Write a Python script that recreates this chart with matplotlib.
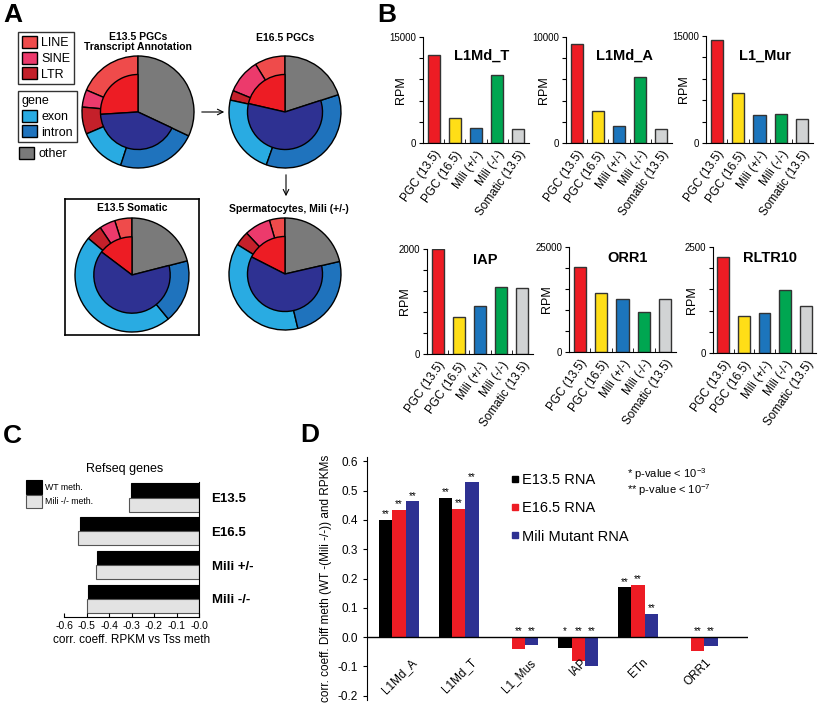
import matplotlib.pyplot as plt
from matplotlib.patches import Patch
from matplotlib.lines import Line2D
import numpy as np

plt.rcParams['font.family'] = ['Liberation Sans', 'DejaVu Sans']
plt.rcParams['mathtext.default'] = 'regular'

W, H = 822, 703


def rect(x0, y0, x1, y1):
    # pixel box (top-left origin) -> figure fraction
    return [x0 / W, 1 - y1 / H, (x1 - x0) / W, (y1 - y0) / H]


# ---------------- A: transcript annotation pies ----------------
outer_labels = ['LINE', 'SINE', 'LTR', 'exon', 'intron', 'other']
# outer ring (%): LINE, SINE, LTR, exon, intron, other
outer_e135 = [18.6, 5.0, 7.8, 13.6, 23.0, 32.0]
outer_e165 = [8.8, 10.0, 2.8, 23.0, 35.4, 20.0]
outer_som = [4.9, 4.5, 4.5, 47.1, 18.0, 21.0]
outer_sperm = [4.5, 7.5, 4.2, 37.5, 24.9, 21.4]
# inner disc (%): repeat, gene, other
inner_e135 = [26.0, 42.0, 32.0]
inner_e165 = [21.4, 58.6, 20.0]
inner_som = [14.7, 64.3, 21.0]
inner_sperm = [17.5, 61.1, 21.4]

outer_colors = ['#ef4b4b', '#ec3a6c', '#c4202a', '#29abe2', '#1f73bd', '#7a7a7a']
inner_colors = ['#ed1c24', '#2e3192', 'none']

# ---------------- B: RPM per repeat family ----------------
samples = ['PGC (13.5)', 'PGC (16.5)', 'Mili (+/-)', 'Mili (-/-)', 'Somatic (13.5)']
sample_colors = ['#ed1c24', '#ffde17', '#1c75bc', '#00a651', '#d1d3d4']
families = ['L1Md_T', 'L1Md_A', 'L1_Mur', 'IAP', 'ORR1', 'RLTR10']
rpm_l1md_t = [12400, 3500, 2100, 9600, 2050]
rpm_l1md_a = [9380, 3030, 1590, 6220, 1310]
rpm_l1_mur = [14500, 7060, 3900, 4000, 3400]
rpm_iap = [2000, 705, 908, 1283, 1257]
rpm_orr1 = [20300, 14100, 12700, 9600, 12700]
rpm_rltr10 = [2270, 875, 953, 1484, 1100]
rpm_max = [15000, 10000, 15000, 2000, 25000, 2500]

# ---------------- C: refseq genes ----------------
c_groups = ['E13.5', 'E16.5', 'Mili +/-', 'Mili -/-']
c_wt = [-0.302, -0.529, -0.455, -0.495]
c_mili = [-0.311, -0.536, -0.458, -0.499]

# ---------------- D: diff meth vs RPKM ----------------
d_families = ['L1Md_A', 'L1Md_T', 'L1_Mus', 'IAP', 'ETn', 'ORR1']
d_e135 = [0.401, 0.475, 0.0, -0.036, 0.170, 0.0]
d_e165 = [0.435, 0.437, -0.041, -0.083, 0.179, -0.046]
d_mili = [0.464, 0.528, -0.026, -0.100, 0.079, -0.032]
sig_e135 = ['**', '**', '', '*', '**', '']
sig_e165 = ['**', '**', '**', '**', '**', '**']
sig_mili = ['**', '**', '**', '**', '**', '**']

fig = plt.figure(figsize=(W / 100, H / 100), dpi=100)

# ---- panel A
pies = [
    ((84, 52, 204, 172), 138, 112, 56, outer_e135, inner_e135, False),
    ((219, 52, 351, 172), 285, 112, 56, outer_e165, inner_e165, False),
    ((65, 199, 199, 335), 132, 275, 57, outer_som, inner_som, True),
    ((219, 212, 351, 334), 285, 274, 56, outer_sperm, inner_sperm, False),
]
for box, cx, cy, r, outer, inner, framed in pies:
    ax = fig.add_axes(rect(*box))
    ax.pie(outer, colors=outer_colors, startangle=90, radius=1,
           wedgeprops=dict(edgecolor='black', linewidth=1))
    w, _ = ax.pie(inner, colors=inner_colors, startangle=90, radius=0.67,
                  wedgeprops=dict(edgecolor='black', linewidth=1))
    w[-1].set_visible(False)
    ax.set_xlim((box[0] - cx) / r, (box[2] - cx) / r)
    ax.set_ylim((cy - box[3]) / r, (cy - box[1]) / r)
    if framed:
        ax.set_frame_on(True)
        ax.set_xticks([])
        ax.set_yticks([])
        for s in ax.spines.values():
            s.set_linewidth(1.2)

leg_kw = dict(fontsize=9, fancybox=False, edgecolor='black', handlelength=1.25,
              handleheight=1.1, borderpad=0.3, labelspacing=0.2, handletextpad=0.3,
              borderaxespad=0, loc='upper left')
lg1 = fig.legend(handles=[Patch(fc=c, ec='black', label=l)
                          for c, l in zip(outer_colors[:3], outer_labels[:3])],
                 bbox_to_anchor=(18 / W, 1 - 32 / H), **leg_kw)
lg1.get_frame().set_linewidth(1)
lg2 = fig.legend(handles=[Patch(fc=c, ec='black', label=l)
                          for c, l in zip(outer_colors[3:5], outer_labels[3:5])],
                 bbox_to_anchor=(18 / W, 1 - 91 / H), title='gene', title_fontsize=9,
                 alignment='left', **leg_kw)
lg2.get_frame().set_linewidth(1)
lg2._legend_box.sep = 2
leg_kw['frameon'] = False
fig.legend(handles=[Patch(fc=outer_colors[5], ec='black', label=outer_labels[5])],
           bbox_to_anchor=(15 / W, 1 - 143 / H), **leg_kw)

# ---- panel B
b_values = [rpm_l1md_t, rpm_l1md_a, rpm_l1_mur, rpm_iap, rpm_orr1, rpm_rltr10]
b_boxes = [(423, 37, 529, 143), (566, 37, 672, 143), (706, 36, 813, 143),
           (427, 249, 533, 354), (569, 247, 676, 352), (713, 247, 816, 353)]
b_title_y = [0.82, 0.82, 0.82, 0.9, 0.9, 0.9]
x = np.arange(len(samples))
for name, vals, ymax, box, ty in zip(families, b_values, rpm_max, b_boxes, b_title_y):
    ax = fig.add_axes(rect(*box))
    ax.bar(x, vals, width=0.57, color=sample_colors, edgecolor='#333333', linewidth=1)
    ax.set_xlim(-0.5, 4.5)
    ax.set_ylim(0, ymax)
    ticks = np.linspace(0, ymax, 6)
    ax.set_yticks(ticks)
    ax.set_yticklabels(['0', '', '', '', '', str(ymax)])
    ax.set_xticks(x)
    ax.set_xticklabels(samples, rotation=55, ha='right', rotation_mode='anchor', fontsize=8.5)
    ax.set_xticks(x[:-1] + 0.5, minor=True)
    ax.tick_params(axis='x', which='major', length=0, pad=4)
    ax.tick_params(axis='x', which='minor', length=3, direction='in')
    ax.tick_params(axis='y', labelsize=7, length=3, pad=2)
    for s in ['top', 'right']:
        ax.spines[s].set_visible(False)
    ax.set_ylabel('RPM', fontsize=9)
    ax.yaxis.set_label_coords(-0.15, 0.5)
    ax.text(0.55, ty, name, transform=ax.transAxes, ha='center', va='center',
            fontsize=10.5, fontweight='bold')

# ---- panel C
ax_c = fig.add_axes(rect(64, 482, 199, 617))
yc = np.arange(len(c_groups))
ax_c.barh(yc - 0.21, c_wt, height=0.42, color='black', edgecolor='black', linewidth=0.8,
          label='WT meth.')
ax_c.barh(yc + 0.21, c_mili, height=0.42, color='#e3e3e3', edgecolor='#555555',
          linewidth=0.8, label='Mili -/- meth.')
ax_c.set_xlim(-0.6, 0.0)
ax_c.set_ylim(3.54, -0.46)
ax_c.set_xticks(np.round(np.arange(-0.6, 0.01, 0.1), 1))
ax_c.set_xticklabels([f'{v:.1f}' for v in np.arange(-0.6, 0.01, 0.1)])
ax_c.tick_params(axis='x', direction='in', length=3, labelsize=7.5, pad=3)
ax_c.yaxis.tick_right()
ax_c.set_yticks(yc)
ax_c.set_yticklabels(c_groups, fontsize=9.5, fontweight='bold')
ax_c.tick_params(axis='y', length=0, pad=9)
for s in ['top', 'left']:
    ax_c.spines[s].set_visible(False)
ax_c.set_xlabel('corr. coeff. RPKM vs Tss meth', fontsize=8.5, labelpad=2)
ax_c.legend(loc='upper left', bbox_to_anchor=(26 / W, 1 - 480 / H),
            bbox_transform=fig.transFigure, fontsize=6.3, frameon=False,
            handlelength=1.8, handleheight=2.0, handletextpad=0.4, labelspacing=0.15,
            borderpad=0, borderaxespad=0)

# ---- panel D
ax_d = fig.add_axes(rect(367, 457, 748, 700))
xd = np.arange(len(d_families))
bw = 0.222
series = [(d_e135, 'black', sig_e135, 'E13.5 RNA'),
          (d_e165, '#ed1c24', sig_e165, 'E16.5 RNA'),
          (d_mili, '#2e3192', sig_mili, 'Mili Mutant RNA')]
for k, (vals, col, sig, lab) in enumerate(series):
    pos = xd + (k - 1) * bw
    ax_d.bar(pos, vals, width=bw, color=col)
    for p, v, s in zip(pos, vals, sig):
        ax_d.text(p, max(v, 0) + 0.002, s, ha='center', va='bottom', fontsize=7)
ax_d.axhline(0, color='black', linewidth=1)
ax_d.set_xlim(-0.535, 5.84)
ax_d.set_ylim(-0.215, 0.615)
ax_d.set_yticks(np.round(np.arange(-0.2, 0.61, 0.1), 1))
ax_d.set_yticklabels([f'{v:.1f}' for v in np.arange(-0.2, 0.61, 0.1)])
ax_d.tick_params(axis='y', labelsize=8.5, length=3)
ax_d.spines['bottom'].set_position(('data', 0))
ax_d.spines['bottom'].set_visible(False)
for s in ['top', 'right']:
    ax_d.spines[s].set_visible(False)
ax_d.set_xticks(xd)
ax_d.set_xticklabels(d_families, rotation=45, ha='center', va='top', fontsize=8.5)
ax_d.tick_params(axis='x', length=0, pad=14)
ax_d.set_ylabel('corr. coeff. Diff meth (WT -(Mili -/-)) and RPKMs', fontsize=8.5, labelpad=4)
ax_d.legend(handles=[Line2D([], [], marker='s', ls='', color=c, markersize=5, label=l)
                     for _, c, _, l in series],
            loc='upper left', bbox_to_anchor=(511 / W, 1 - 473 / H),
            bbox_transform=fig.transFigure, fontsize=10.5, frameon=False,
            handlelength=0.6, handletextpad=0.15, labelspacing=0.98, borderpad=0,
            borderaxespad=0)

# ---- overlay: panel letters, titles, arrows
ov = fig.add_axes([0, 0, 1, 1])
ov.set_xlim(0, W)
ov.set_ylim(H, 0)
ov.axis('off')
for letter, (lx, ly) in zip('ABCD', [(3, 3), (377, 3), (3, 424), (300, 423)]):
    ov.text(lx, ly, letter, fontsize=19, fontweight='bold', ha='left', va='top')
ov.text(138, 42, 'E13.5 PGCs\nTranscript Annotation', fontsize=7.5, fontweight='bold',
        ha='center', va='center', linespacing=1.1)
ov.text(285, 38, 'E16.5 PGCs', fontsize=7.5, fontweight='bold', ha='center', va='center')
ov.text(132, 208, 'E13.5 Somatic', fontsize=7.5, fontweight='bold', ha='center', va='center')
ov.text(289, 209, 'Spermatocytes, Mili (+/-)', fontsize=7.5, fontweight='bold',
        ha='center', va='center')
ov.annotate('', xy=(227, 112), xytext=(199, 112),
            arrowprops=dict(arrowstyle='->', lw=0.8, color='black'))
ov.annotate('', xy=(286, 199), xytext=(286, 172),
            arrowprops=dict(arrowstyle='->', lw=0.8, color='black'))
ov.text(125, 469, 'Refseq genes', fontsize=9, ha='center', va='center')
ov.text(627, 474, '* p-value < 10$^{-3}$', fontsize=8, ha='left', va='center')
ov.text(627, 490, '** p-value < 10$^{-7}$', fontsize=8, ha='left', va='center')

fig.savefig('out.png', dpi=100)
